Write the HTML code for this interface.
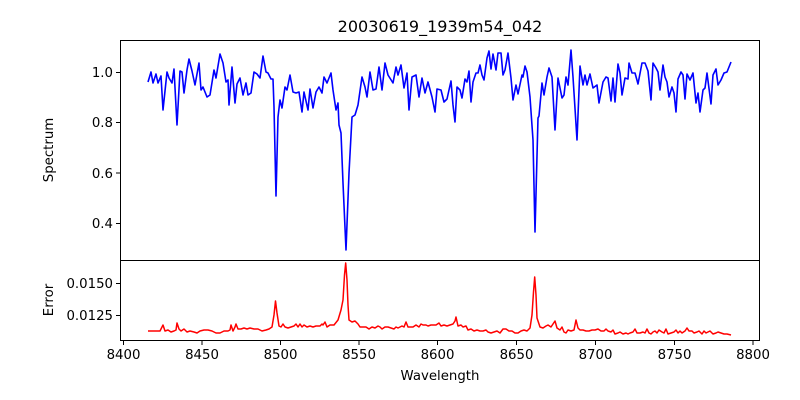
<!DOCTYPE html>
<html><head><meta charset="utf-8"><style>
body{margin:0;background:#fff;}
svg{display:block;font-family:"DejaVu Sans","Liberation Sans",sans-serif;}
</style></head><body>
<svg width="800" height="400" viewBox="0 0 800 400" xmlns="http://www.w3.org/2000/svg">
<rect width="800" height="400" fill="#fff"/>
<text x="440" y="32" font-size="16" text-anchor="middle">20030619_1939m54_042</text>
<polyline fill="none" stroke="#0000ff" stroke-width="1.6" stroke-linejoin="round" points="148,82 151,72 153,83 156,74 158,83 161,76 163,110 167,72 169,78 172,83 174,69 177,125 180,71 182,72 184,93 187,70 189,59 192,71 195,85 199,63 201,90 203,87 207,97 210,95 214,70 216,78 220,54 223,63 226,82 228,80 229,105 232,67 235,103 237,84 240,78 243,95 246,83 248,95 251,93 254,72 257,74 260,78 263,56 266,72 268,73 271,79 273,79 274,107 276,196 278,117 280,100 282,108 285,87 287,90 290,75 293,92 296,93 299,92 302,112 304,92 308,110 310,89 313,108 316,92 319,87 322,93 324,77 327,83 331,73 333,90 336,110 338,103 339,125 341,133 343,183 346,250 349,173 352,117 355,115 358,105 362,77 365,87 367,97 370,72 373,90 376,89 379,67 382,90 385,63 388,75 393,83 396,67 398,75 401,65 404,88 407,73 409,110 412,77 416,75 419,97 422,78 425,93 428,82 432,97 435,112 437,89 441,90 444,102 447,99 451,81 453,105 455,122 457,87 460,90 462,98 465,79 467,82 469,71 471,102 473,82 476,73 478,73 480,65 482,75 484,80 487,58 489,51 491,69 493,54 496,70 498,53 501,53 503,75 505,70 508,53 511,78 513,100 516,85 518,94 522,75 523,77 525,66 527,72 530,97 533,140 535,232 538,118 539,116 542,83 544,95 547,77 549,68 552,77 555,130 558,78 562,98 564,95 566,77 568,85 571,50 573,77 577,140 580,66 583,85 585,75 587,85 590,74 593,88 597,85 599,103 603,82 606,77 608,78 611,101 613,78 615,102 618,64 620,73 622,95 625,78 628,79 629,63 632,73 635,73 638,84 642,63 645,63 648,71 651,100 653,63 656,68 658,72 660,90 663,65 665,77 667,82 669,97 672,87 674,93 676,112 678,79 681,72 683,75 685,99 687,74 690,80 693,73 696,103 698,93 700,112 703,90 705,88 707,73 711,104 713,75 716,69 718,85 721,80 724,73 727,72 729,67 731,62"/>
<polyline fill="none" stroke="#ff0000" stroke-width="1.5" stroke-linejoin="round" points="148,331 152,331 156,331 160,331 163,325 165,331 168,330 171,332 174,331 176,330 177,323 179,329 181,331 184,329 187,332 190,331 194,332 197,333 200,331 204,330 208,330 212,331 216,333 220,333 224,331 228,331 230,330 231,325 233,331 235,327 236,324 238,329 241,329 244,328 247,329 250,328 254,329 258,329 262,331 266,330 269,329 272,327 274,315 275.5,301 277,313 279,326 281,327 283,324 285,327 288,328 291,327 294,326 296,324 298,327 300,324 302,327 304,325 307,327 310,326 313,327 316,326 318,326 320,326 322,324 323,325 325,322 327,327 330,325 334,325 338,320 341,310 343,300 344.5,275 345.7,263 347,280 348,305 349,320 352,322 355,321 358,324 360,327 363,327 366,327 369,329 372,327 375,328 378,326 380,327 382,329 385,327 388,327 391,328 394,329 396,327 398,328 402,326 404,327 406,322 408,327 410,327 413,327 416,325 419,327 421,324 423,325 426,325 428,326 431,325 433,325 436,325 439,323 441,326 444,325 447,326 450,325 453,324 455,321 456,317 458,326 461,325 463,327 466,326 468,330 471,329 474,331 477,330 480,331 483,331 486,330 488,332 491,333 494,332 497,331 500,333 503,329 506,329 509,331 512,331 515,333 518,333 521,331 524,330 527,331 530,328 532,315 533.5,292 534.7,277 536,295 537,318 540,327 543,328 546,326 548,325 551,327 553,324 555,321 557,328 560,330 562,327 564,332 566,333 568,330 571,331 574,330 576,320 578,328 580,330 583,330 586,331 589,331 592,330 595,330 598,329 601,331 604,331 606,329 608,331 611,332 613,330 615,334 618,333 620,332 623,334 626,333 628,334 630,333 633,332 635,329 637,333 640,333 643,332 645,333 647,329 649,333 651,334 653,332 655,331 657,333 659,330 662,332 664,333 666,329 668,334 671,333 674,332 676,330 678,333 680,331 682,333 685,331 687,328 689,331 692,331 694,333 697,332 699,331 702,334 704,331 706,333 708,332 710,331 713,334 716,333 718,332 721,333 724,334 727,334 731,335"/>
<g fill="none" stroke="#000" stroke-width="1">
<rect x="120.5" y="40.5" width="639" height="220"/>
<rect x="120.5" y="260.5" width="639" height="80"/>
</g>
<g stroke="#000" stroke-width="1">
<line x1="116" x2="120" y1="72.5" y2="72.5"/><line x1="116" x2="120" y1="122.5" y2="122.5"/><line x1="116" x2="120" y1="173" y2="173"/><line x1="116" x2="120" y1="223.5" y2="223.5"/>
<line x1="116" x2="120" y1="283.5" y2="283.5"/><line x1="116" x2="120" y1="315.5" y2="315.5"/>
<line x1="123.5" x2="123.5" y1="341" y2="345"/><line x1="202" x2="202" y1="341" y2="345"/><line x1="280.5" x2="280.5" y1="341" y2="345"/><line x1="359" x2="359" y1="341" y2="345"/><line x1="437.5" x2="437.5" y1="341" y2="345"/><line x1="516.5" x2="516.5" y1="341" y2="345"/><line x1="595.5" x2="595.5" y1="341" y2="345"/><line x1="674.5" x2="674.5" y1="341" y2="345"/><line x1="753" x2="753" y1="341" y2="345"/>
</g>
<g font-size="13.3" text-anchor="end">
<text x="113" y="77">1.0</text><text x="113" y="127">0.8</text><text x="113" y="178">0.6</text><text x="113" y="228">0.4</text>
<text x="113" y="288">0.0150</text><text x="113" y="320">0.0125</text>
</g>
<g font-size="13.3" text-anchor="middle">
<text x="123.5" y="359">8400</text><text x="202" y="359">8450</text><text x="280.5" y="359">8500</text><text x="359" y="359">8550</text><text x="437.5" y="359">8600</text><text x="516.5" y="359">8650</text><text x="595.5" y="359">8700</text><text x="674.5" y="359">8750</text><text x="753" y="359">8800</text>
<text x="440" y="380">Wavelength</text>
<text transform="translate(53,150) rotate(-90)">Spectrum</text>
<text transform="translate(53,300) rotate(-90)">Error</text>
</g>
</svg>
</body></html>
